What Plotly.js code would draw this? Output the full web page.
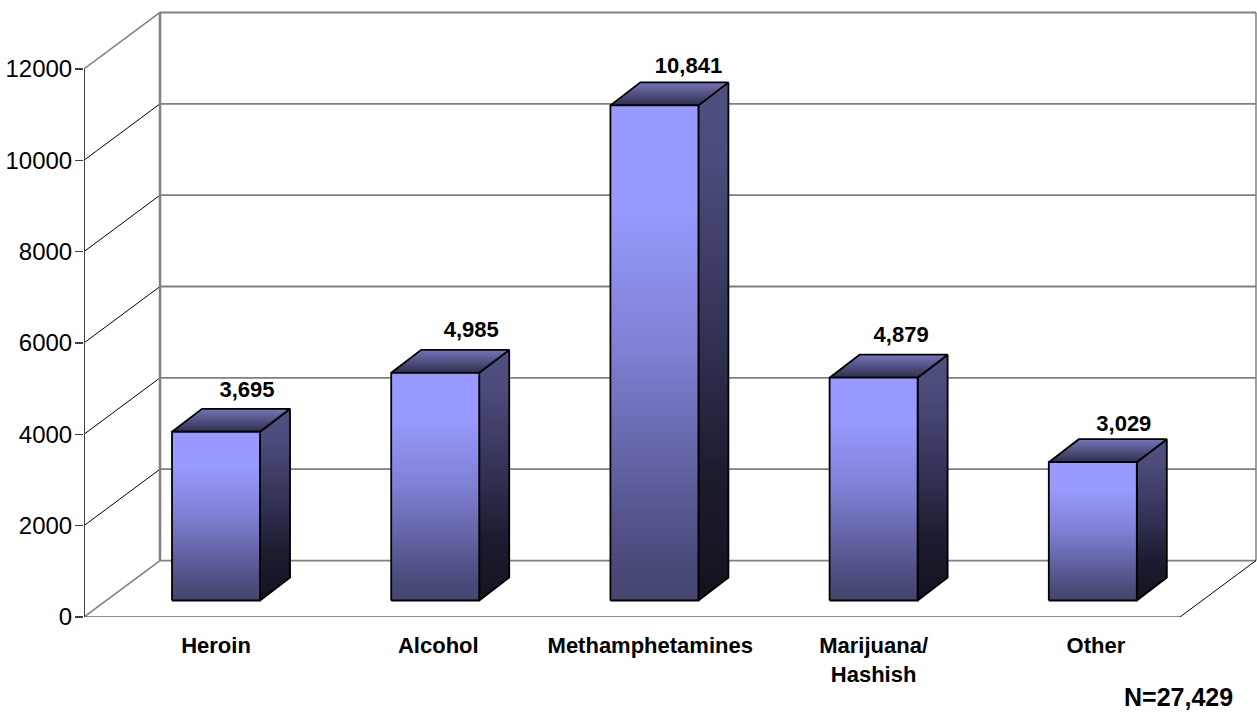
<!DOCTYPE html>
<html>
<head>
<meta charset="utf-8">
<script src="https://cdn.plot.ly/plotly-3.0.1.min.js"></script>
<style>html,body{margin:0;padding:0;background:#fff}#chart{width:1257px;height:713px}</style>
</head>
<body>
<div id="chart"></div>
<script>
// Drug admissions by primary substance, drawn as an oblique 3-D column chart.
const categories = ["Heroin", "Alcohol", "Methamphetamines", "Marijuana/<br>Hashish", "Other"];
const admissions = [3695, 4985, 10841, 4879, 3029];
const valueTicks = [0, 2000, 4000, 6000, 8000, 10000, 12000];
const sampleNote = "N=27,429";

// Projection constants, in axis units (x: category slots, y: values).
const wallDx = 0.3467, wallDy = 1236;       // depth of the floor and side wall
const barInset = 0.4015, barWidth = 0.4015; // front face of a column inside its slot
const barDx = 0.1369, barDy = 503;          // depth of a column
const baseLift = 361;                       // columns stand part way back on the floor
const labelDx = 0.1415, labelDy = 880;      // value label above the column's front edge
const labelNudgeY = [0, 30, -60, 20, -87];  // per-label adjustments
const labelNudgeX = [0, 0.023, 0.014, -0.016, 0];
const tickNudge = [0, 0.014, -0.019, 0, 0.014];
const slots = categories.length;
const maxVal = valueTicks[valueTicks.length - 1];

const GREY = "#808080", INK = "#000000";
const seg = (xs, ys, color, width) => ({
  type: "scatter", mode: "lines", x: xs, y: ys, hoverinfo: "skip", showlegend: false,
  cliponaxis: false, line: {color, width}
});

const traces = [];
// Back wall gridlines, side wall diagonals
valueTicks.forEach(v => {
  const top = v === maxVal, bottom = v === 0;
  traces.push(seg([wallDx, slots + wallDx], [v + wallDy, v + wallDy], GREY, top ? 2 : 1.8));
  traces.push(seg([0, wallDx], [v, v + wallDy], (top || bottom) ? GREY : INK, (top || bottom) ? 1.6 : 1));
});
traces.push(seg([wallDx, wallDx], [wallDy, maxVal + wallDy], GREY, 2.5));
traces.push(seg([slots + wallDx, slots + wallDx], [wallDy, maxVal + wallDy], GREY, 1.5));
// Floor and left axis
traces.push(seg([slots, slots + wallDx], [0, wallDy], INK, 1));
traces.push(seg([0, slots], [0, 0], "#666666", 1.6));
traces.push(seg([0, 0], [0, maxVal], "#404040", 2));

// Gradient ramps for the three visible faces of a column, bottom to top
const frontRamp = [[0, "#45456f"], [0.1, "#4c4c7e"], [0.5, "#7f7fd4"], [0.8, "#9999ff"], [1, "#9999ff"]];
const sideRamp = [[0, "#13131f"], [0.25, "#1c1c30"], [0.55, "#35355a"], [0.85, "#4c4c7d"], [1, "#50507f"]];
const topRamp = [[0, "#2e2e4e"], [1, "#7676ba"]];

const face = (xs, ys, ramp) => ({
  type: "scatter", mode: "lines", x: xs, y: ys, fill: "toself",
  fillgradient: {type: "vertical", colorscale: ramp},
  line: {color: INK, width: 1.8}, hoverinfo: "skip", showlegend: false
});

admissions.forEach((v, i) => {
  const x0 = i + barInset, x1 = x0 + barWidth, y0 = baseLift, y1 = baseLift + v;
  traces.push(face([x1, x1 + barDx, x1 + barDx, x1, x1], [y0, y0 + barDy, y1 + barDy, y1, y0], sideRamp));
  traces.push(face([x0, x1, x1 + barDx, x0 + barDx, x0], [y1, y1, y1 + barDy, y1 + barDy, y1], topRamp));
  traces.push(face([x0, x1, x1, x0, x0], [y0, y0, y1, y1, y0], frontRamp));
});

// Value labels over the columns
traces.push({
  type: "scatter", mode: "text", hoverinfo: "skip", showlegend: false, cliponaxis: false,
  x: admissions.map((v, i) => i + barInset + barWidth / 2 + labelDx + labelNudgeX[i]),
  y: admissions.map((v, i) => baseLift + v + labelDy + labelNudgeY[i]),
  text: admissions.map(v => v.toLocaleString("en-US")),
  textposition: "middle center",
  textfont: {family: "Liberation Sans, Arial, sans-serif", size: 22, color: INK, weight: 700}
});

const layout = {
  width: 1257, height: 713, showlegend: false,
  margin: {l: 84, r: 0, t: 0, b: 95.5, pad: 0},
  paper_bgcolor: "#ffffff", plot_bgcolor: "#ffffff",
  font: {family: "Liberation Sans, Arial, sans-serif", color: INK},
  xaxis: {
    range: [0, 5.3513], showgrid: false, zeroline: false, showline: false,
    tickmode: "array",
    tickvals: categories.map((c, i) => i + barInset + barWidth / 2 + tickNudge[i]),
    ticktext: categories.map(c => "<b>" + c + "</b>"),
    ticks: "outside", ticklen: 9, tickcolor: "rgba(0,0,0,0)",
    tickfont: {size: 22, color: INK}
  },
  yaxis: {
    range: [0, 13509], showgrid: false, zeroline: false, showline: false,
    tickmode: "array", tickvals: valueTicks, ticktext: valueTicks.map(String),
    ticks: "outside", ticklen: 8, tickwidth: 1.5, tickcolor: "#404040",
    ticklabelstandoff: -2,
    tickfont: {size: 24, color: INK}
  },
  annotations: [{
    text: "<b>" + sampleNote + "</b>", xref: "paper", yref: "paper",
    x: 1094 / 1173, y: -80 / 617.5, xanchor: "center", yanchor: "middle",
    showarrow: false, font: {size: 25, color: INK}
  }]
};

Plotly.newPlot("chart", traces, layout, {displayModeBar: false, staticPlot: true});
</script>
</body>
</html>
